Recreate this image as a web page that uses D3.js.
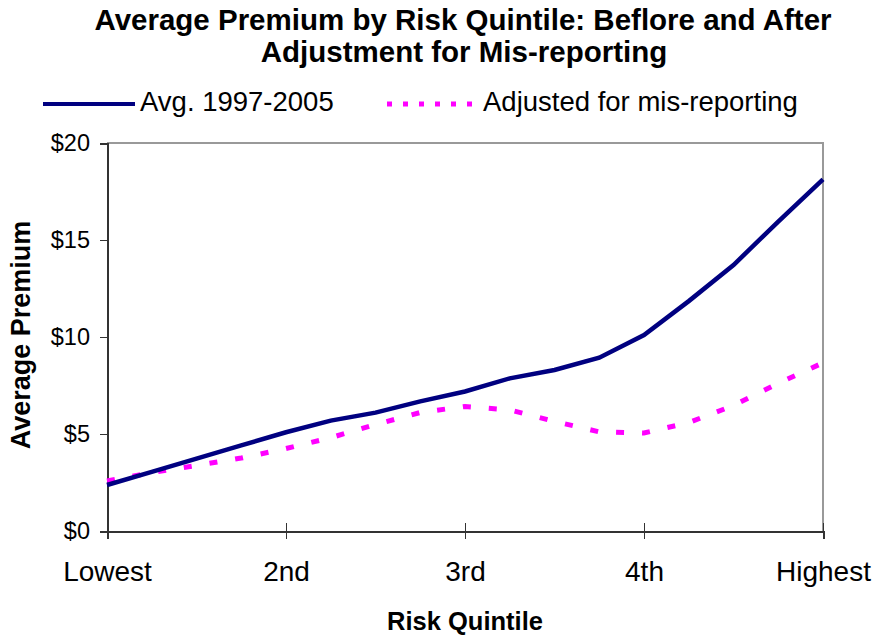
<!DOCTYPE html>
<meta charset="utf-8">
<style>
body { margin: 0; background: #fff; font-family: "Liberation Sans", Arial, sans-serif; }
.line { fill: none; }
.axis path, .axis line { fill: none; stroke: #333; shape-rendering: crispEdges; }
.axis text { font-family: "Liberation Sans", Arial, sans-serif; fill: #000; }
</style>
<body>
<script src="https://d3js.org/d3.v7.min.js"></script>
<script>

// tick labels on the x axis
var categories = ["Lowest", "2nd", "3rd", "4th", "Highest"];
// position of each point, in quintile units (0 = Lowest, 4 = Highest)
var positions = [0, 0.25, 0.5, 0.75, 1, 1.25, 1.5, 1.75, 2, 2.25, 2.5, 2.75, 3, 3.25, 3.5, 3.75, 4];
var avgPremium = [2.37, 3.05, 3.73, 4.41, 5.09, 5.69, 6.10, 6.68, 7.19, 7.87, 8.30, 8.93, 10.10, 11.85, 13.71, 15.95, 18.13];
var adjPremium = [2.58, 3.01, 3.38, 3.76, 4.25, 4.81, 5.49, 6.11, 6.42, 6.24, 5.65, 5.11, 5.05, 5.59, 6.47, 7.61, 8.67];
var yTicks = [0, 5, 10, 15, 20];

var width = 874, height = 636;
var plot = {left: 107, right: 823, top: 143, bottom: 531};

var svg = d3.select("body").append("svg")
    .attr("width", width)
    .attr("height", height);

var x = d3.scaleLinear().domain([0, 4]).range([plot.left, plot.right]);
var y = d3.scaleLinear().domain([0, 20]).range([plot.bottom, plot.top]);

// title
var title = svg.append("text")
    .attr("text-anchor", "middle")
    .style("font-weight", "bold")
    .style("font-size", "29.5px");
title.append("tspan").attr("x", 463).attr("y", 30).text("Average Premium by Risk Quintile: Beflore and After");
title.append("tspan").attr("x", 464).attr("y", 62).text("Adjustment for Mis-reporting");

// frame (top and right)
svg.append("path")
    .attr("d", "M" + plot.left + "," + plot.top + "H" + plot.right + "V" + plot.bottom)
    .attr("fill", "none")
    .attr("stroke", "#999")
    .attr("stroke-width", 2)
    .style("shape-rendering", "crispEdges");

// y axis
var yAxis = svg.append("g")
    .attr("class", "axis")
    .attr("transform", "translate(" + plot.left + ",0)")
    .call(d3.axisLeft(y).tickValues(yTicks).tickSize(7).tickPadding(10)
      .tickFormat(function(d) { return "$" + d; }));
yAxis.selectAll("text").style("font-size", "23.5px");
yAxis.select(".domain").attr("stroke-width", 2);

// x axis, ticks cross the line
var xAxis = svg.append("g")
    .attr("class", "axis")
    .attr("transform", "translate(0," + plot.bottom + ")")
    .call(d3.axisBottom(x).tickValues([0, 1, 2, 3, 4]).tickSize(8).tickPadding(22)
      .tickFormat(function(d) { return categories[d]; }));
xAxis.selectAll(".tick line").attr("y1", -8);
xAxis.selectAll("text").style("font-size", "28px");
xAxis.select(".domain").attr("stroke-width", 2);

// axis titles
svg.append("text")
    .attr("x", 465).attr("y", 630)
    .attr("text-anchor", "middle")
    .style("font-weight", "bold")
    .style("font-size", "25.5px")
    .text("Risk Quintile");

svg.append("text")
    .attr("transform", "translate(30,335) rotate(-90)")
    .attr("text-anchor", "middle")
    .style("font-weight", "bold")
    .style("font-size", "27px")
    .text("Average Premium");

// lines
var premiumLine = d3.line()
    .x(function(d, i) { return x(positions[i]); })
    .y(function(d) { return y(d); });

svg.append("path")
    .datum(adjPremium)
    .attr("class", "line")
    .attr("stroke", "#ff00ff")
    .attr("stroke-width", 5)
    .attr("stroke-dasharray", "8,18")
    .attr("d", premiumLine);

svg.append("path")
    .datum(avgPremium)
    .attr("class", "line")
    .attr("stroke", "#000080")
    .attr("stroke-width", 4.5)
    .attr("d", premiumLine);

// legend
var legend = [
  {name: "Avg. 1997-2005", color: "#000080", dash: null, x1: 43, x2: 135, tx: 140},
  {name: "Adjusted for mis-reporting", color: "#ff00ff", dash: "5,11", x1: 387, x2: 480, tx: 483}
];
var lg = svg.selectAll(".legend")
    .data(legend)
  .enter().append("g")
    .attr("class", "legend");
lg.append("line")
    .attr("x1", function(d) { return d.x1; })
    .attr("x2", function(d) { return d.x2; })
    .attr("y1", 104).attr("y2", 104)
    .attr("stroke", function(d) { return d.color; })
    .attr("stroke-width", function(d) { return d.dash ? 5 : 4; })
    .attr("stroke-dasharray", function(d) { return d.dash; });
lg.append("text")
    .attr("x", function(d) { return d.tx; })
    .attr("y", 111)
    .style("font-size", "27.5px")
    .text(function(d) { return d.name; });

</script>
</body>
